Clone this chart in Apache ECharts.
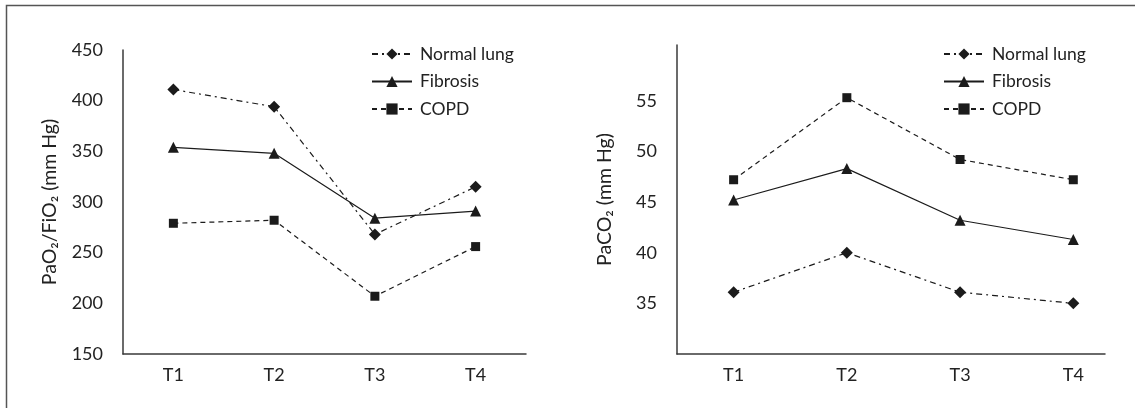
<!DOCTYPE html>
<html>
<head>
<meta charset="utf-8">
<script src="https://cdn.jsdelivr.net/npm/echarts@6/dist/echarts.min.js"></script>
<style>
  html, body { margin: 0; padding: 0; background: #fff; }
  #chart { width: 1135px; height: 408px; }
</style>
</head>
<body>
<div id="chart"></div>
<script>
// Time points
const categories = ['T1', 'T2', 'T3', 'T4'];
const seriesNames = ['Normal lung', 'Fibrosis', 'COPD'];

// PaO2/FiO2 (mm Hg)
const ratioNormal   = [411, 394, 268, 315];
const ratioFibrosis = [354, 348, 284, 291];
const ratioCopd     = [279, 282, 207, 256];

// PaCO2 (mm Hg)
const co2Normal   = [36.1, 40.0, 36.1, 35.0];
const co2Fibrosis = [45.2, 48.3, 43.2, 41.3];
const co2Copd     = [47.2, 55.3, 49.2, 47.2];

// Axis tick labels
const ratioTicks = [150, 200, 250, 300, 350, 400, 450];
const co2Ticks = [35, 40, 45, 50, 55];

const ink = '#1b1b1b';
const font = 'Lato, "Open Sans", sans-serif';

// Line look for each group
const styles = {
  'Normal lung': { type: [6, 4, 2, 4], symbol: 'diamond', size: 12 },
  'Fibrosis':    { type: 'solid',      symbol: 'triangle', size: 11 },
  'COPD':        { type: [5, 4],       symbol: 'rect', size: 9 }
};

const pairs = vals => vals.map((v, i) => [i + 1, v]);

function makeSeries(name, vals, idx) {
  const s = styles[name];
  return {
    name: name,
    type: 'line',
    xAxisIndex: idx,
    yAxisIndex: idx,
    data: pairs(vals),
    symbol: s.symbol,
    symbolSize: s.size,
    lineStyle: { color: ink, width: 1.2, type: s.type },
    itemStyle: { color: ink },
    animation: false
  };
}

function xAxis(idx, max) {
  return {
    type: 'value',
    gridIndex: idx,
    min: 0.5,
    max: max,
    axisLine: { show: true, lineStyle: { color: '#3a3a3a', width: 1.5 } },
    axisTick: { show: false },
    splitLine: { show: false },
    axisLabel: {
      customValues: categories.map((c, i) => i + 1),
      formatter: v => categories[Math.round(v) - 1],
      color: '#222', fontFamily: font, fontSize: 18, margin: 12
    }
  };
}

function yAxis(idx, min, max, ticks, name, gap) {
  return {
    type: 'value',
    gridIndex: idx,
    min: min,
    max: max,
    axisLine: { show: true, lineStyle: { color: '#3a3a3a', width: 1.5 } },
    axisTick: { show: false },
    splitLine: { show: false },
    axisLabel: {
      customValues: ticks,
      color: '#222', fontFamily: font, fontSize: 18, margin: 20
    },
    name: name,
    nameLocation: 'middle',
    nameGap: gap,
    nameRotate: 90,
    nameTextStyle: { color: '#222', fontFamily: font, fontSize: 19.5 }
  };
}

function legend(left, top) {
  return {
    orient: 'vertical',
    left: left,
    top: top,
    padding: 0,
    itemWidth: 40,
    itemHeight: 14,
    itemGap: 9.5,
    data: seriesNames,
    textStyle: { color: '#222', fontFamily: font, fontSize: 17.5, lineHeight: 14, padding: [0, 0, 0, 3] }
  };
}

const chart = echarts.init(document.getElementById('chart'), null, { renderer: 'canvas' });
chart.setOption({
  backgroundColor: '#fff',
  animation: false,
  graphic: [{
    type: 'polyline',
    shape: { points: [[6.5, 408], [6.5, 5.5], [1135, 5.5]] },
    style: { stroke: '#555', lineWidth: 1.5, fill: null }
  }],
  grid: [
    { left: 123, top: 50, width: 403, height: 304 },
    { left: 677, top: 45, width: 428, height: 309 }
  ],
  legend: [legend(371, 45), legend(943, 45)],
  xAxis: [xAxis(0, 4.5), xAxis(1, 4.28)],
  yAxis: [
    yAxis(0, 150, 450, ratioTicks, 'PaO₂/FiO₂ (mm Hg)', 63),
    yAxis(1, 30, 60.5, co2Ticks, 'PaCO₂ (mm Hg)', 62)
  ],
  series: [
    makeSeries('Normal lung', ratioNormal, 0),
    makeSeries('Fibrosis', ratioFibrosis, 0),
    makeSeries('COPD', ratioCopd, 0),
    makeSeries('Normal lung', co2Normal, 1),
    makeSeries('Fibrosis', co2Fibrosis, 1),
    makeSeries('COPD', co2Copd, 1)
  ]
});
</script>
</body>
</html>
